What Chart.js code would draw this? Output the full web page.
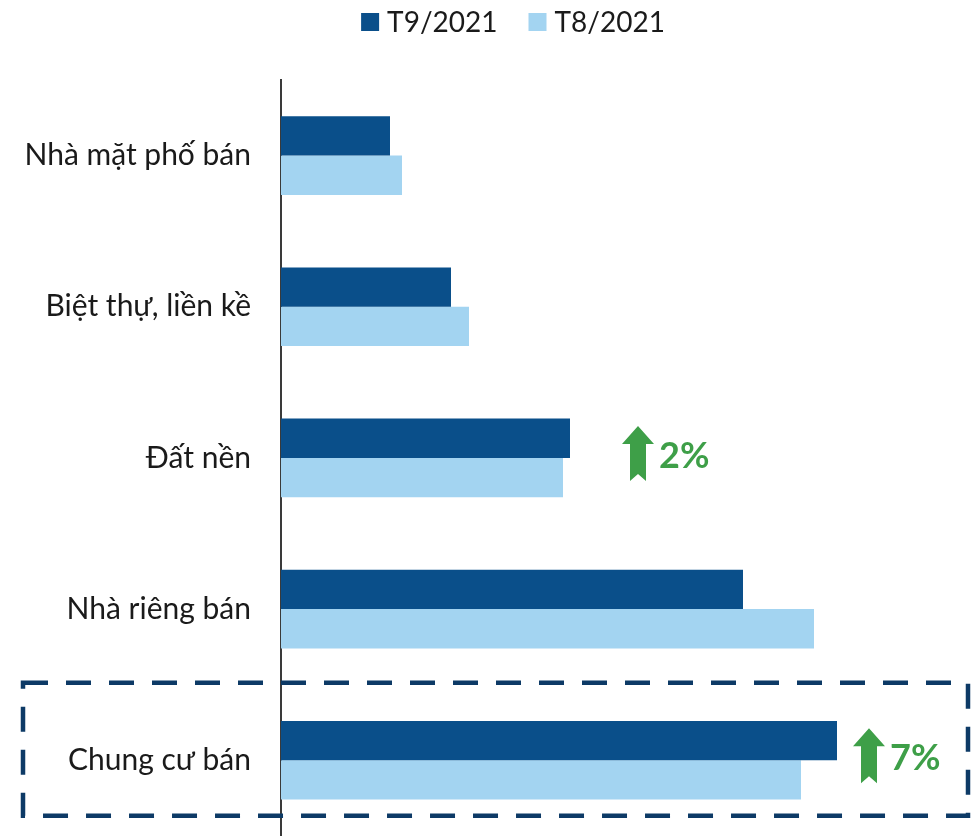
<!DOCTYPE html>
<html>
<head>
<meta charset="utf-8">
<script src="https://cdn.jsdelivr.net/npm/chart.js@4/dist/chart.umd.min.js"></script>
<style>
html,body{margin:0;padding:0;background:#fff;overflow:hidden;}
#wrap{width:972px;height:836px;}
canvas{display:block;}
</style>
</head>
<body>
<div id="wrap"><canvas id="c" width="972" height="836"></canvas></div>
<script>
const categories = ["Nhà mặt phố bán", "Biệt thự, liền kề", "Đất nền", "Nhà riêng bán", "Chung cư bán"];
const seriesNames = ["T9/2021", "T8/2021"];
const valuesT9 = [109, 170, 289, 462, 556];
const valuesT8 = [121, 188, 282, 533, 520];
const colors = ["#0a4f8a", "#a3d4f1"];
const changeLabels = [null, null, "2%", null, "7%"];
const changeGap = [0, 0, 52, 0, 16];
const highlightIndex = 4;

const FONT = "Lato, 'Open Sans', sans-serif";
const GREEN = "#3e9f48";

const overlay = {
  id: "overlay",
  afterDraw(chart) {
    const ctx = chart.ctx;
    const x = chart.scales.x, y = chart.scales.y;
    ctx.save();
    // legend
    ctx.font = "28px " + FONT;
    ctx.textBaseline = "middle";
    const box = 18, gap = 8, sep = 31;
    const widths = seriesNames.map(n => ctx.measureText(n).width);
    const total = widths.reduce((a, w) => a + box + gap + w, 0) + sep * (seriesNames.length - 1);
    let lx = 513 - total / 2;
    seriesNames.forEach((n, i) => {
      ctx.fillStyle = colors[i];
      ctx.fillRect(lx, 13, box, box);
      ctx.fillStyle = "#1a1a1a";
      ctx.textAlign = "left";
      ctx.fillText(n, lx + box + gap, 23);
      lx += box + gap + widths[i] + sep;
    });
    // change annotations
    changeLabels.forEach((lab, i) => {
      if (!lab) return;
      const maxV = Math.max(valuesT9[i], valuesT8[i]);
      const cy = y.getPixelForValue(i) - 4;
      const ax = x.getPixelForValue(maxV) + changeGap[i];
      const top = cy - 28, headB = cy - 10, bot = cy + 27, notch = cy + 20;
      ctx.fillStyle = GREEN;
      ctx.beginPath();
      ctx.moveTo(ax + 16, top);
      ctx.lineTo(ax + 32, headB);
      ctx.lineTo(ax + 24, headB);
      ctx.lineTo(ax + 24, bot);
      ctx.lineTo(ax + 16, notch);
      ctx.lineTo(ax + 8, bot);
      ctx.lineTo(ax + 8, headB);
      ctx.lineTo(ax, headB);
      ctx.closePath();
      ctx.fill();
      ctx.font = "bold 36px " + FONT;
      ctx.textAlign = "left";
      ctx.textBaseline = "alphabetic";
      ctx.fillText(lab, ax + 37, cy + 14);
    });
    // highlight dashed box
    const step = (y.getPixelForValue(1) - y.getPixelForValue(0));
    const hc = y.getPixelForValue(highlightIndex);
    ctx.strokeStyle = "#0d3a66";
    ctx.lineWidth = 4.5;
    ctx.setLineDash([25, 18]);
    ctx.strokeRect(23, hc - step / 2 - 2, 945, step * 0.88);
    ctx.restore();
  }
};

new Chart(document.getElementById("c"), {
  type: "bar",
  data: {
    labels: categories,
    datasets: [
      { label: seriesNames[0], data: valuesT9, backgroundColor: colors[0], borderWidth: 0, barPercentage: 1, categoryPercentage: 0.52 },
      { label: seriesNames[1], data: valuesT8, backgroundColor: colors[1], borderWidth: 0, barPercentage: 1, categoryPercentage: 0.52 }
    ]
  },
  options: {
    indexAxis: "y",
    responsive: false,
    animation: false,
    layout: { padding: { top: 80, left: 0, right: 0, bottom: 0 } },
    scales: {
      x: { display: false, min: 0, max: 691 },
      y: {
        grid: { display: false, drawTicks: true, tickLength: 30 },
        border: { display: true, color: "#3a3a3a", width: 2 },
        ticks: { font: { family: FONT, size: 30, lineHeight: 0.01 }, color: "#1a1a1a", padding: 0 },
        afterFit(s) { s.width = 281; }
      }
    },
    plugins: { legend: { display: false }, tooltip: { enabled: false } }
  },
  plugins: [overlay]
});
</script>
</body>
</html>
